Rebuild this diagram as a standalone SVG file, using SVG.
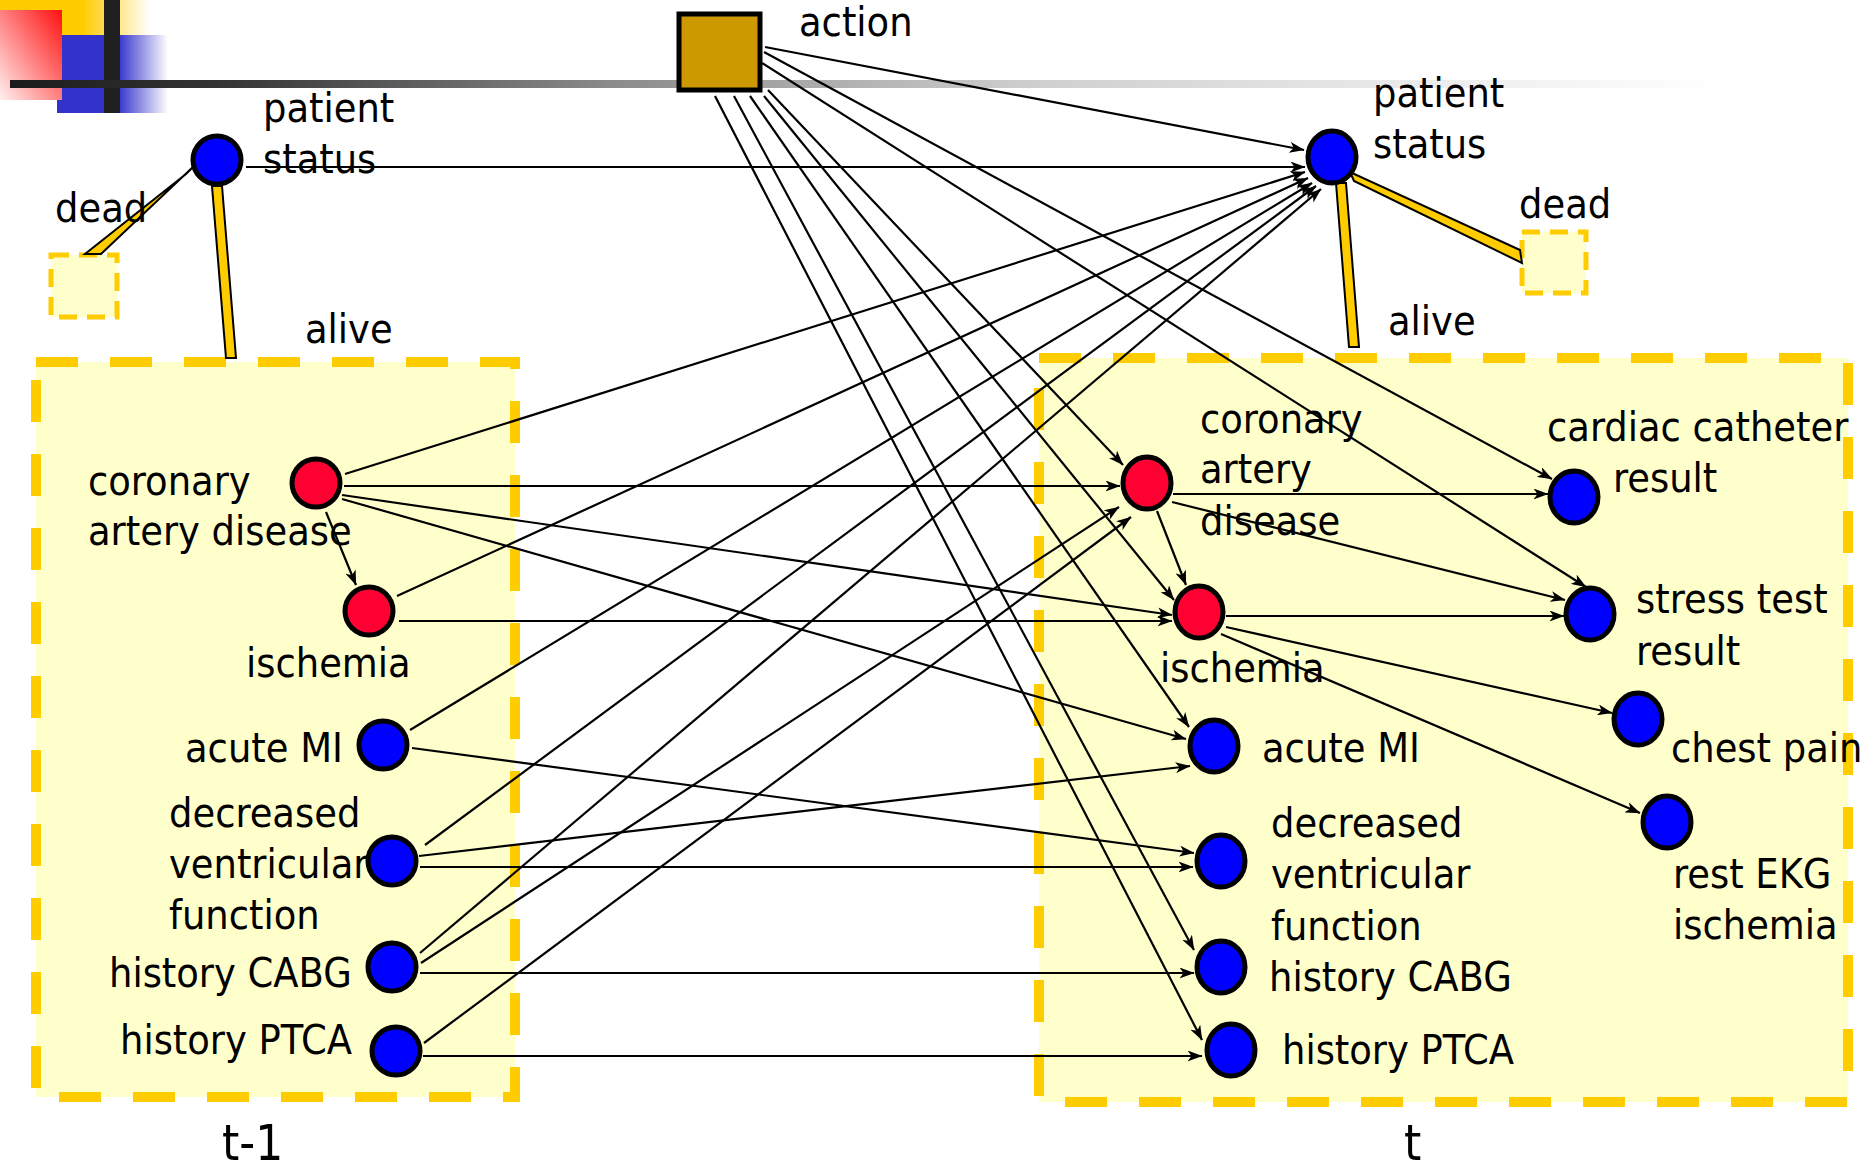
<svg xmlns="http://www.w3.org/2000/svg" width="1861" height="1170" viewBox="0 0 1861 1170">
  <defs>
    <style>
      text { font-family: "DejaVu Sans Condensed", "DejaVu Sans", sans-serif; font-stretch: condensed; font-size: 41px; fill: #000; }
      .big { font-size: 49px; }
      .edge { stroke: #000; stroke-width: 2.2; fill: none; marker-end: url(#arr); }
      .red { fill: #FF0033; stroke: #000; stroke-width: 5; }
      .blue { fill: #0000FF; stroke: #000; stroke-width: 5; }
      .slice { fill: #FFFFCC; stroke: #FFCC00; stroke-width: 10; stroke-dasharray: 42 32; }
      .state { fill: #FFFFCC; stroke: #FFCC00; stroke-width: 5; stroke-dasharray: 18 10; }
      .branch { fill: #FFCC00; stroke: #000; stroke-width: 2; stroke-linejoin: miter; }
    </style>
    <marker id="arr" viewBox="0 0 15 11" refX="14.5" refY="5.5" markerWidth="15" markerHeight="11" markerUnits="userSpaceOnUse" orient="auto">
      <path d="M0,0 L15,5.5 L0,11 L4,5.5 z" fill="#000"/>
    </marker>
    <linearGradient id="rule" gradientUnits="userSpaceOnUse" x1="10" y1="0" x2="1720" y2="0">
      <stop offset="0" stop-color="#1c1c1c"/>
      <stop offset="0.12" stop-color="#333"/>
      <stop offset="0.35" stop-color="#8a8a8a"/>
      <stop offset="0.6" stop-color="#cfcfcf"/>
      <stop offset="0.85" stop-color="#eeeeee"/>
      <stop offset="1" stop-color="#fff"/>
    </linearGradient>
    <linearGradient id="yellowFade" gradientUnits="userSpaceOnUse" x1="0" y1="0" x2="150" y2="0">
      <stop offset="0.55" stop-color="#FFCC00"/>
      <stop offset="1" stop-color="#FFCC00" stop-opacity="0"/>
    </linearGradient>
    <linearGradient id="blueFade" gradientUnits="userSpaceOnUse" x1="57" y1="0" x2="168" y2="0">
      <stop offset="0.55" stop-color="#3333CC"/>
      <stop offset="1" stop-color="#3333CC" stop-opacity="0"/>
    </linearGradient>
    <linearGradient id="redFade" x1="1" y1="0" x2="0" y2="1">
      <stop offset="0" stop-color="#FF1010"/>
      <stop offset="1" stop-color="#FFF0F0"/>
    </linearGradient>
  </defs>

  <rect width="1861" height="1170" fill="#fff"/>

  <!-- title-bar ornament -->
  <g id="ornament">
    <rect x="0" y="0" width="150" height="35" fill="url(#yellowFade)"/>
    <rect x="57" y="35" width="111" height="78" fill="url(#blueFade)"/>
    <rect x="0" y="10" width="62" height="90" fill="url(#redFade)"/>
    <rect x="104" y="0" width="16" height="113" fill="#1f1f1f"/>
    <rect x="10" y="80" width="1710" height="8" fill="url(#rule)"/>
  </g>

  <!-- time slices -->
  <g id="slice-t-1">
    <rect class="slice" x="36" y="362" width="479" height="735"/>
    <text class="big" x="222" y="1160">t-1</text>
  </g>
  <g id="slice-t">
    <rect class="slice" x="1039" y="358" width="809" height="744"/>
    <text class="big" x="1404" y="1160">t</text>
  </g>

  <!-- connectors -->
  <g id="connectors">
    <!-- from action -->
    <line class="edge" x1="765" y1="47" x2="1304" y2="150"/>
    <line class="edge" x1="764" y1="52" x2="1552" y2="479"/>
    <line class="edge" x1="762" y1="63" x2="1586" y2="587"/>
    <line class="edge" x1="768" y1="90" x2="1123" y2="465"/>
    <line class="edge" x1="764" y1="96" x2="1174" y2="600"/>
    <line class="edge" x1="750" y1="96" x2="1189" y2="727"/>
    <line class="edge" x1="734" y1="96" x2="1194" y2="950"/>
    <line class="edge" x1="715" y1="96" x2="1202" y2="1040"/>
    <!-- into patient status at t -->
    <line class="edge" x1="246" y1="167" x2="1305" y2="167"/>
    <line class="edge" x1="345" y1="474" x2="1305" y2="172"/>
    <line class="edge" x1="397" y1="596" x2="1308" y2="178"/>
    <line class="edge" x1="410" y1="730" x2="1312" y2="183"/>
    <line class="edge" x1="425" y1="845" x2="1316" y2="186"/>
    <line class="edge" x1="420" y1="953" x2="1321" y2="189"/>
    <!-- history into coronary artery disease at t -->
    <line class="edge" x1="421" y1="963" x2="1119" y2="507"/>
    <line class="edge" x1="424" y1="1043" x2="1131" y2="517"/>
    <!-- within slice t-1 -->
    <line class="edge" x1="326" y1="512" x2="356" y2="585"/>
    <!-- t-1 to t -->
    <line class="edge" x1="344" y1="486" x2="1120" y2="486"/>
    <line class="edge" x1="342" y1="495" x2="1172" y2="615"/>
    <line class="edge" x1="342" y1="499" x2="1186" y2="739"/>
    <line class="edge" x1="399" y1="621" x2="1172" y2="621"/>
    <line class="edge" x1="412" y1="748" x2="1194" y2="853"/>
    <line class="edge" x1="419" y1="856" x2="1190" y2="766"/>
    <line class="edge" x1="420" y1="867" x2="1193" y2="867"/>
    <line class="edge" x1="420" y1="973" x2="1194" y2="973"/>
    <line class="edge" x1="423" y1="1056" x2="1202" y2="1056"/>
    <!-- within slice t -->
    <line class="edge" x1="1157" y1="511" x2="1186" y2="585"/>
    <line class="edge" x1="1173" y1="494" x2="1548" y2="494"/>
    <line class="edge" x1="1172" y1="502" x2="1565" y2="600"/>
    <line class="edge" x1="1226" y1="616" x2="1564" y2="616"/>
    <line class="edge" x1="1226" y1="627" x2="1612" y2="713"/>
    <line class="edge" x1="1221" y1="634" x2="1640" y2="813"/>
  </g>

  <!-- decision node -->
  <g id="action">
    <rect x="679" y="14" width="81" height="76" fill="#CC9900" stroke="#000" stroke-width="5"/>
    <text x="799" y="36">action</text>
  </g>

  <!-- slice t-1 nodes -->
  <g id="status-t-1">
    <rect class="state" x="51" y="255" width="66" height="62"/>
    <polygon class="branch" points="186,174 194,166 101,254 85,254"/>
    <polygon class="branch" points="212,186 222,186 236,358 226,358"/>
    <circle class="blue" cx="217" cy="160" r="24"/>
    <text x="263" y="122">patient</text>
    <text x="263" y="173">status</text>
    <text x="55" y="222">dead</text>
    <text x="305" y="343">alive</text>
  </g>
  <g id="cad-t-1">
    <circle class="red" cx="316" cy="483" r="24"/>
    <text x="88" y="495">coronary</text>
    <text x="88" y="545">artery disease</text>
  </g>
  <g id="ischemia-t-1">
    <circle class="red" cx="369" cy="611" r="24"/>
    <text x="246" y="677">ischemia</text>
  </g>
  <g id="acute-mi-t-1">
    <circle class="blue" cx="383" cy="745" r="24"/>
    <text x="185" y="762">acute MI</text>
  </g>
  <g id="dvf-t-1">
    <circle class="blue" cx="392" cy="861" r="24"/>
    <text x="169" y="827">decreased</text>
    <text x="169" y="878">ventricular</text>
    <text x="169" y="929">function</text>
  </g>
  <g id="cabg-t-1">
    <circle class="blue" cx="392" cy="967" r="24"/>
    <text x="109" y="987">history CABG</text>
  </g>
  <g id="ptca-t-1">
    <circle class="blue" cx="396" cy="1051" r="24"/>
    <text x="120" y="1054">history PTCA</text>
  </g>

  <!-- slice t nodes -->
  <g id="status-t">
    <rect class="state" x="1522" y="232" width="64" height="61"/>
    <polygon class="branch" points="1350,172 1354,181 1522,263 1520,250"/>
    <polygon class="branch" points="1336,183 1346,183 1359,347 1349,347"/>
    <ellipse class="blue" cx="1332" cy="157" rx="24" ry="26"/>
    <text x="1373" y="107">patient</text>
    <text x="1373" y="158">status</text>
    <text x="1519" y="218">dead</text>
    <text x="1388" y="335">alive</text>
  </g>
  <g id="cad-t">
    <ellipse class="red" cx="1147" cy="483" rx="24" ry="26"/>
    <text x="1200" y="433">coronary</text>
    <text x="1200" y="483">artery</text>
    <text x="1200" y="535">disease</text>
  </g>
  <g id="ischemia-t">
    <ellipse class="red" cx="1199" cy="612" rx="24" ry="26"/>
    <text x="1160" y="682">ischemia</text>
  </g>
  <g id="acute-mi-t">
    <ellipse class="blue" cx="1214" cy="746" rx="24" ry="26"/>
    <text x="1262" y="762">acute MI</text>
  </g>
  <g id="dvf-t">
    <ellipse class="blue" cx="1221" cy="861" rx="24" ry="26"/>
    <text x="1271" y="837">decreased</text>
    <text x="1271" y="888">ventricular</text>
    <text x="1271" y="940">function</text>
  </g>
  <g id="cabg-t">
    <ellipse class="blue" cx="1221" cy="967" rx="24" ry="26"/>
    <text x="1269" y="991">history CABG</text>
  </g>
  <g id="ptca-t">
    <ellipse class="blue" cx="1231" cy="1050" rx="24" ry="26"/>
    <text x="1282" y="1064">history PTCA</text>
  </g>
  <g id="catheter-t">
    <ellipse class="blue" cx="1574" cy="497" rx="24" ry="26"/>
    <text x="1547" y="441">cardiac catheter</text>
    <text x="1613" y="492">result</text>
  </g>
  <g id="stress-t">
    <ellipse class="blue" cx="1590" cy="614" rx="24" ry="26"/>
    <text x="1636" y="613">stress test</text>
    <text x="1636" y="665">result</text>
  </g>
  <g id="chest-pain-t">
    <ellipse class="blue" cx="1638" cy="719" rx="24" ry="26"/>
    <text x="1671" y="762">chest pain</text>
  </g>
  <g id="rest-ekg-t">
    <ellipse class="blue" cx="1667" cy="822" rx="24" ry="26"/>
    <text x="1673" y="888">rest EKG</text>
    <text x="1673" y="939">ischemia</text>
  </g>
</svg>
